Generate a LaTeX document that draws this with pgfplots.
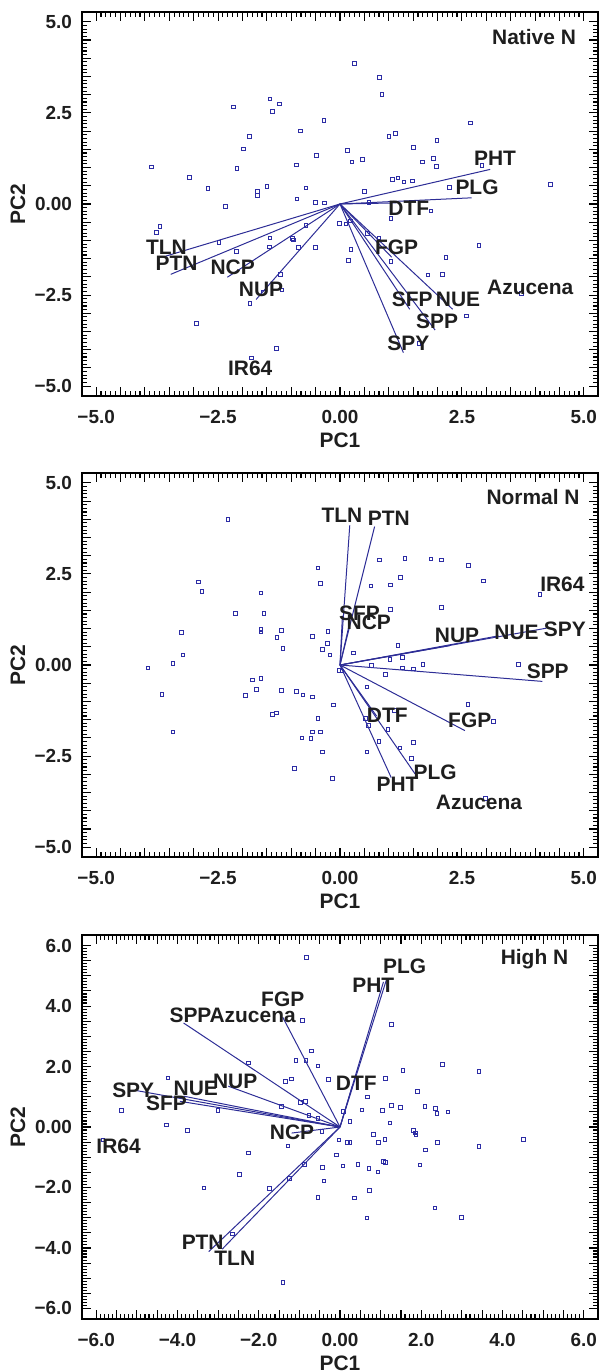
\documentclass[border=0pt]{standalone}
\usepackage{fontspec}
\setmainfont{Liberation Sans}
\usepackage{pgfplots}
\usepackage{pgfplotstable}
\pgfplotsset{compat=1.18}

\definecolor{vecblue}{RGB}{45,45,150}
\definecolor{ptblue}{RGB}{45,45,165}
\definecolor{labtext}{RGB}{30,30,30}

% scores, panel 1 (Native N)
\pgfplotstableread{
x y
0.29 3.86
0.81 3.48
0.86 3.00
-1.44 2.88
-1.24 2.75
-2.19 2.66
-1.38 2.54
-0.33 2.30
2.67 2.23
-0.81 2.01
-1.86 1.86
1.00 1.86
1.14 1.94
1.99 1.75
-1.98 1.51
1.51 1.56
0.15 1.47
-0.48 1.34
1.91 1.25
0.24 1.16
0.46 1.23
1.69 1.16
1.98 1.03
2.91 1.06
-3.87 1.02
-0.90 1.07
-2.11 0.98
-3.09 0.73
1.08 0.67
1.19 0.72
1.31 0.61
1.48 0.63
-1.50 0.49
-2.71 0.43
-0.70 0.44
-1.69 0.35
-1.69 0.24
0.50 0.35
2.24 0.45
4.31 0.54
-2.35 -0.06
-0.88 0.14
-0.51 0.05
-0.32 0.03
0.59 0.05
1.86 -0.19
1.04 -0.40
-0.01 -0.53
0.12 -0.55
0.21 -0.46
-3.69 -0.62
-3.76 -0.78
-0.70 -0.59
0.56 -0.81
0.80 -0.93
-1.44 -0.93
-0.97 -0.94
-0.96 -0.99
-2.48 -1.05
2.85 -1.14
-1.45 -1.18
-0.85 -1.19
-0.51 -1.19
0.22 -1.25
-2.12 -1.30
2.17 -1.47
0.17 -1.55
1.04 -1.57
2.10 -1.93
1.80 -1.95
-1.22 -1.93
-1.19 -2.36
-1.57 -2.43
3.72 -2.45
-1.85 -2.73
2.59 -3.07
-2.95 -3.28
1.62 -3.83
-1.31 -3.97
-1.82 -4.22
}\ptsone

\pgfplotstableread{
x y u v
0 0 -3.62 -1.45
0 0 -3.47 -1.93
0 0 -2.31 -2.01
0 0 -1.72 -2.62
0 0 3.08 0.95
0 0 2.70 0.17
0 0 1.15 0.03
0 0 1.06 -1.46
0 0 1.43 -2.89
0 0 1.95 -3.46
0 0 2.31 -2.89
0 0 1.30 -4.08
}\vecone

\pgfplotstableread{
x y name
-3.56 -1.18 TLN
-3.35 -1.64 PTN
-2.20 -1.73 NCP
-1.62 -2.34 NUP
-1.84 -4.52 IR64
3.18 1.25 PHT
2.81 0.47 PLG
1.41 -0.13 DTF
1.16 -1.18 FGP
1.48 -2.62 SFP
2.42 -2.62 NUE
1.99 -3.21 SPP
1.40 -3.81 SPY
3.90 -2.29 Azucena
}\labone

% panel 2 (Normal N)
\pgfplotstableread{
x y
-2.30 3.99
0.81 2.89
1.33 2.92
1.86 2.91
2.08 2.89
2.63 2.74
-0.45 2.66
1.24 2.41
2.94 2.31
-0.40 2.24
0.63 2.17
1.03 2.20
-2.90 2.28
-2.83 2.02
-1.62 1.98
4.10 1.94
2.08 1.58
1.03 1.53
-2.15 1.41
-1.56 1.41
-1.20 0.95
-1.62 0.98
-1.62 0.91
-0.25 0.92
-3.25 0.90
-0.57 0.78
-1.29 0.75
-0.26 0.60
1.19 0.54
-1.17 0.45
-0.36 0.43
-3.22 0.28
-0.21 0.28
0.28 0.33
1.02 0.16
1.28 0.21
3.66 0.02
-3.43 0.05
0.65 -0.01
1.70 0.02
1.28 -0.08
1.50 -0.11
-3.94 -0.08
-0.02 -0.14
0.04 -0.16
0.93 -0.26
-1.80 -0.41
-1.62 -0.37
0.55 -0.60
-1.71 -0.67
-1.20 -0.70
-0.89 -0.72
-0.76 -0.82
-0.57 -0.88
-3.65 -0.80
-1.94 -0.84
-0.13 -1.10
2.62 -1.08
1.11 -1.25
-1.38 -1.36
-1.30 -1.32
-0.45 -1.46
0.52 -1.46
3.15 -1.55
0.58 -1.66
0.98 -1.77
-3.43 -1.84
-0.57 -1.84
-0.40 -1.84
-0.78 -2.00
-0.60 -2.02
0.80 -2.09
1.51 -2.12
1.23 -2.27
-0.36 -2.39
0.55 -2.38
1.46 -2.56
-0.93 -2.84
-0.15 -3.11
2.98 -3.66
}\ptstwo

\pgfplotstableread{
x y u v
0 0 0.20 3.83
0 0 0.71 3.80
0 0 0.05 1.35
0 0 0.18 1.05
0 0 2.25 0.53
0 0 3.25 0.80
0 0 4.23 1.01
0 0 4.15 -0.45
0 0 2.56 -1.80
0 0 0.75 -1.40
0 0 1.54 -2.99
0 0 1.05 -3.09
}\vectwo

\pgfplotstableread{
x y name
0.04 4.10 TLN
1.00 4.03 PTN
0.40 1.42 SFP
0.59 1.17 NCP
2.40 0.80 NUP
3.62 0.89 NUE
4.61 0.98 SPY
4.56 2.21 IR64
4.26 -0.18 SPP
2.66 -1.51 FGP
0.97 -1.39 DTF
1.95 -2.94 PLG
1.18 -3.27 PHT
2.85 -3.78 Azucena
}\labtwo

% panel 3 (High N)
\pgfplotstableread{
x y
-0.83 5.61
1.26 3.39
-0.92 3.52
-0.71 2.52
-1.09 2.20
-0.84 2.20
-2.26 2.12
-0.54 2.02
2.52 2.08
3.42 1.84
1.55 1.87
-4.24 1.62
-1.34 1.51
-1.20 1.59
-0.28 1.57
1.12 1.61
1.91 1.18
0.68 1.00
-0.85 0.84
-0.97 0.82
-1.44 0.68
1.26 0.71
1.48 0.64
2.09 0.68
2.35 0.61
0.54 0.57
1.05 0.55
-5.38 0.55
-3.01 0.54
2.38 0.45
2.66 0.50
0.09 0.51
-0.77 0.38
-0.54 0.29
0.24 0.18
1.23 0.13
-4.28 0.07
-3.76 -0.11
-0.45 -0.15
1.81 -0.12
1.85 -0.20
1.87 -0.26
0.82 -0.25
4.51 -0.40
-0.03 -0.42
1.10 -0.40
0.18 -0.50
0.24 -0.50
0.95 -0.50
2.40 -0.50
-1.28 -0.62
3.42 -0.65
-5.84 -0.42
2.10 -0.76
-2.26 -0.85
-0.09 -0.92
1.07 -1.13
1.12 -1.17
0.44 -1.23
-0.87 -1.23
0.07 -1.28
1.97 -1.25
-2.47 -1.56
-0.43 -1.34
0.71 -1.37
0.93 -1.48
-1.25 -1.69
-0.40 -1.78
-1.74 -2.03
-3.35 -2.01
0.73 -2.10
-0.54 -2.32
0.35 -2.34
2.34 -2.68
2.99 -2.99
0.66 -3.01
-2.65 -3.54
-1.41 -5.14
}\ptsthree

\pgfplotstableread{
x y u v
0 0 1.14 4.86
0 0 1.07 4.80
0 0 0.30 1.35
0 0 -1.41 3.63
0 0 -3.85 3.44
0 0 -2.75 1.35
0 0 -3.85 1.02
0 0 -4.99 1.20
0 0 -3.94 0.85
0 0 -1.19 -0.20
0 0 -3.23 -4.12
0 0 -2.90 -4.04
}\vecthree

\pgfplotstableread{
x y name
1.59 5.30 PLG
0.82 4.70 PHT
-1.41 4.24 FGP
-3.68 3.70 SPP
-2.15 3.70 Azucena
-2.58 1.52 NUP
-3.55 1.29 NUE
-5.09 1.23 SPY
-4.27 0.79 SFP
0.40 1.45 DTF
-1.18 -0.17 NCP
-5.45 -0.65 IR64
-3.38 -3.82 PTN
-2.59 -4.35 TLN
}\labthree

\pgfplotsset{
  biplot/.style={
    scale only axis, width=258bp, height=192bp,
    axis line style={line width=0.9bp},
    major tick length=4.5bp, minor tick length=2.5bp,
    every tick/.style={black, line width=0.55bp},
    minor tick num=4,
    ticklabel style={font=\bfseries\fontsize{9.5}{11}\selectfont, text=labtext},
    xticklabel style={yshift=-3.8bp},
    yticklabel style={xshift=-1.5bp},
    label style={font=\bfseries\fontsize{10.5}{12}\selectfont, text=labtext},
    xlabel style={at={(rel axis cs:0.5,0)}, anchor=center, yshift=-22bp},
    ylabel style={at={([xshift=-32bp]rel axis cs:0,0.5)}, anchor=center},
    xlabel={PC1}, ylabel={PC2},
  },
  pts/.style={only marks, mark=square, mark size=0.9bp,
    mark options={draw=ptblue, line width=0.4bp}},
  vecs/.style={vecblue, line width=0.5bp,
    quiver={u=\thisrow{u}, v=\thisrow{v}}},
  labs/.style={only marks, mark=*, mark size=0pt,
    scatter/use mapped color={draw=none, fill=none},
    mark options={draw=none, fill=none},
    nodes near coords, point meta=explicit symbolic,
    nodes near coords align=center,
    every node near coord/.append style={font=\bfseries\fontsize{10.5}{12}\selectfont,
      text=labtext, inner sep=0pt}},
}
\tikzset{tag/.style={anchor=east, inner sep=0pt, text=labtext,
    font=\bfseries\fontsize{10.5}{12}\selectfont}}

\begin{document}
\begin{tikzpicture}
\useasboundingbox (-41bp,-488bp) rectangle (260bp,198bp);

\begin{axis}[biplot, at={(0,0)}, anchor=south west,
  xmin=-5.29, xmax=5.29, ymin=-5.27, ymax=5.27,
  xtick={-5,-4.5,...,5}, ytick={-5,-4.5,...,5},
  xticklabels={−5.0,,,,,−2.5,,,,,0.00,,,,,2.5,,,,,5.0},
  yticklabels={−5.0,,,,,−2.5,,,,,0.00,,,,,2.5,,,,,5.0}]
\addplot[vecs] table {\vecone};
\addplot[pts] table {\ptsone};
\addplot[labs] table[meta=name] {\labone};
\node[tag] at (rel axis cs:0.958,0.935) {Native N};
\end{axis}

\begin{axis}[biplot, at={(0,-230.5bp)}, anchor=south west,
  xmin=-5.29, xmax=5.29, ymin=-5.27, ymax=5.27,
  xtick={-5,-4.5,...,5}, ytick={-5,-4.5,...,5},
  xticklabels={−5.0,,,,,−2.5,,,,,0.00,,,,,2.5,,,,,5.0},
  yticklabels={−5.0,,,,,−2.5,,,,,0.00,,,,,2.5,,,,,5.0}]
\addplot[vecs] table {\vectwo};
\addplot[pts] table {\ptstwo};
\addplot[labs] table[meta=name] {\labtwo};
\node[tag] at (rel axis cs:0.965,0.937) {Normal N};
\end{axis}

\begin{axis}[biplot, at={(0,-461.5bp)}, anchor=south west,
  xmin=-6.35, xmax=6.35, ymin=-6.35, ymax=6.35,
  xtick={-6,-5.5,...,6}, ytick={-6,-5.5,...,6},
  xticklabels={−6.0,,,,−4.0,,,,−2.0,,,,0.00,,,,2.0,,,,4.0,,,,6.0},
  yticklabels={−6.0,,,,−4.0,,,,−2.0,,,,0.00,,,,2.0,,,,4.0,,,,6.0}]
\addplot[vecs] table {\vecthree};
\addplot[pts] table {\ptsthree};
\addplot[labs] table[meta=name] {\labthree};
\node[tag] at (rel axis cs:0.943,0.936) {High N};
\end{axis}
\end{tikzpicture}
\end{document}
